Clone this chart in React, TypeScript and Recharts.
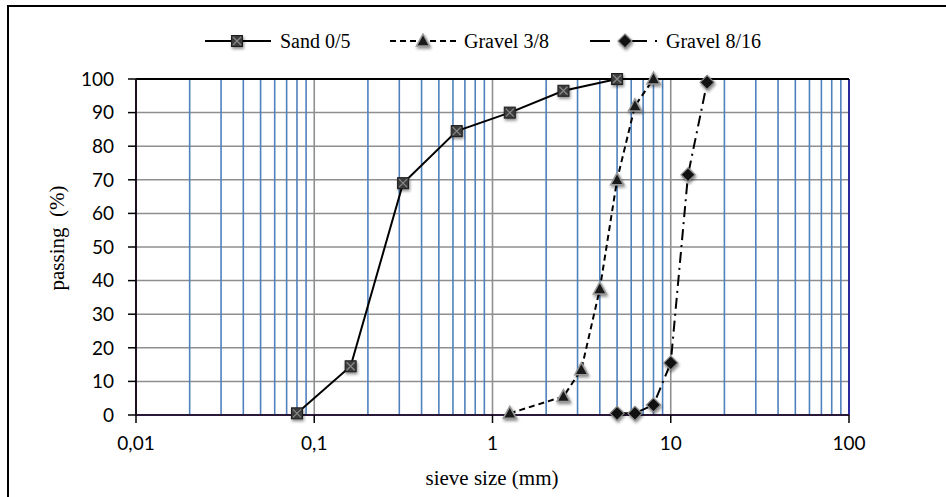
import React from 'react';
import { LineChart, Line, XAxis, YAxis, CartesianGrid, ReferenceLine } from 'recharts';

// sieve sizes (mm) and % passing
const sandSizes = [0.08, 0.16, 0.315, 0.63, 1.25, 2.5, 5];
const sandPassing = [0.5, 14.5, 69, 84.5, 90, 96.5, 100];

const gravel38Sizes = [1.25, 2.5, 3.15, 4, 5, 6.3, 8];
const gravel38Passing = [0.5, 5.5, 13.5, 37.5, 70, 92, 100];

const gravel816Sizes = [5, 6.3, 8, 10, 12.5, 16];
const gravel816Passing = [0.5, 0.5, 3, 15.5, 71.5, 99];

const xTicks = [0.01, 0.1, 1, 10, 100];
const yTicks = [0, 10, 20, 30, 40, 50, 60, 70, 80, 90, 100];
const minorSteps = [2, 3, 4, 5, 6, 7, 8, 9];
const decades = [0.01, 0.1, 1, 10];

const minorLines = decades.flatMap(d => minorSteps.map(m => +(d * m).toPrecision(3)));
const majorLines = [0.1, 1, 10];

const toRows = (xs: number[], ys: number[]) => xs.map((x, i) => ({ x, y: ys[i] }));
const sand = toRows(sandSizes, sandPassing);
const gravel38 = toRows(gravel38Sizes, gravel38Passing);
const gravel816 = toRows(gravel816Sizes, gravel816Passing);

const SHADOW = { filter: 'drop-shadow(1px 2px 1.5px rgba(0,0,0,0.45))' };

const SquareMark = ({ cx, cy }: { cx: number; cy: number }) => (
  <g style={SHADOW}>
    <rect x={cx - 5.5} y={cy - 5.5} width={11} height={11} fill="#3c3c3c" stroke="#1e1e1e" strokeWidth={1} />
    <path d={`M${cx - 4} ${cy - 4}L${cx + 4} ${cy + 4}M${cx + 4} ${cy - 4}L${cx - 4} ${cy + 4}`} stroke="#8a8a8a" strokeWidth={1.2} />
  </g>
);

const TriangleMark = ({ cx, cy }: { cx: number; cy: number }) => (
  <g style={SHADOW}>
    <path d={`M${cx} ${cy - 7}L${cx + 6.5} ${cy + 5}L${cx - 6.5} ${cy + 5}Z`} fill="#1a1a1a" stroke="#9a9a9a" strokeWidth={1.5} />
  </g>
);

const DiamondMark = ({ cx, cy }: { cx: number; cy: number }) => (
  <g style={SHADOW}>
    <path d={`M${cx} ${cy - 7}L${cx + 7} ${cy}L${cx} ${cy + 7}L${cx - 7} ${cy}Z`} fill="#111" stroke="#8a8a8a" strokeWidth={1.2} />
  </g>
);

const dotOf = (Mark: any) => (props: any) => {
  if (props.cx == null || props.cy == null) return <g key={props.index} />;
  return <Mark key={props.index} cx={props.cx} cy={props.cy} />;
};

const serif = '"Liberation Serif", "Times New Roman", serif';
const tickFont = { fontFamily: 'Lato, "Open Sans", sans-serif', fontSize: 19, fill: '#000' };

export default function App() {
  return (
    <div style={{ position: 'absolute', left: 0, top: 0, width: 946, height: 497, background: '#fff', overflow: 'hidden' }}>
      <div style={{ position: 'absolute', left: 7, top: 5, width: 960, height: 490, borderLeft: '2px solid #000', borderTop: '2px solid #000', borderBottom: '1px solid #cfcfcf' }} />
      <LineChart width={946} height={497} margin={{ top: 79, right: 97, bottom: 0, left: 0 }} style={{ position: 'absolute', left: 0, top: 0 }}>
        <CartesianGrid vertical={false} stroke="#8f8f8f" strokeWidth={1.5} strokeOpacity={1} />
        <XAxis
          dataKey="x"
          type="number"
          scale="log"
          domain={[0.01, 100]}
          allowDataOverflow
          ticks={xTicks}
          tickFormatter={(v: number) => String(v).replace('.', ',')}
          height={82}
          tickSize={8}
          tickMargin={14}
          tick={tickFont}
          axisLine={{ stroke: '#2a1838', strokeWidth: 2 }}
          tickLine={{ stroke: '#000', strokeWidth: 1.5 }}
        />
        <YAxis
          type="number"
          domain={[0, 100]}
          ticks={yTicks}
          width={136}
          tickSize={8}
          tickMargin={14}
          tick={tickFont}
          axisLine={{ stroke: '#1a1020', strokeWidth: 2 }}
          tickLine={{ stroke: '#000', strokeWidth: 1.5 }}
        />
        {minorLines.map(v => (
          <ReferenceLine key={`m${v}`} x={v} stroke="#4f81bd" strokeWidth={1.6} />
        ))}
        {majorLines.map(v => (
          <ReferenceLine key={`M${v}`} x={v} stroke="#8f8f8f" strokeWidth={1.6} />
        ))}
        <ReferenceLine x={100} stroke="#2b2b9a" strokeWidth={2} />
        <ReferenceLine y={100} stroke="#000" strokeWidth={2.2} />
        <Line data={sand} dataKey="y" stroke="#000" strokeWidth={2} dot={dotOf(SquareMark)} activeDot={false} isAnimationActive={false} />
        <Line data={gravel38} dataKey="y" stroke="#000" strokeWidth={2} strokeDasharray="6 4" dot={dotOf(TriangleMark)} activeDot={false} isAnimationActive={false} />
        <Line data={gravel816} dataKey="y" stroke="#000" strokeWidth={2} strokeDasharray="11 5 2 5" dot={dotOf(DiamondMark)} activeDot={false} isAnimationActive={false} />
      </LineChart>
      <svg width={946} height={497} style={{ position: 'absolute', left: 0, top: 0, pointerEvents: 'none' }}>
        {/* legend */}
        <line x1={205} y1={41} x2={271} y2={41} stroke="#000" strokeWidth={2} />
        <SquareMark cx={237} cy={41} />
        <text x={280} y={41} dominantBaseline="central" fontFamily={serif} fontSize={20}>Sand 0/5</text>
        <line x1={390} y1={41} x2={459} y2={41} stroke="#000" strokeWidth={2} strokeDasharray="6 4" />
        <TriangleMark cx={423} cy={41} />
        <text x={464} y={41} dominantBaseline="central" fontFamily={serif} fontSize={20}>Gravel 3/8</text>
        <line x1={590} y1={41} x2={659} y2={41} stroke="#000" strokeWidth={2} strokeDasharray="20 8 29 8 2" />
        <DiamondMark cx={625} cy={41} />
        <text x={666} y={41} dominantBaseline="central" fontFamily={serif} fontSize={20}>Gravel 8/16</text>
        {/* axis titles */}
        <text x={492} y={485} textAnchor="middle" fontFamily={serif} fontSize={21}>sieve size (mm)</text>
        <text
          x={57}
          y={238}
          transform="rotate(-90 57 238)"
          textAnchor="middle"
          dominantBaseline="central"
          fontFamily={serif}
          fontSize={21}
          style={{ whiteSpace: 'pre' }}
        >
          {'passing  (%)'}
        </text>
      </svg>
    </div>
  );
}
